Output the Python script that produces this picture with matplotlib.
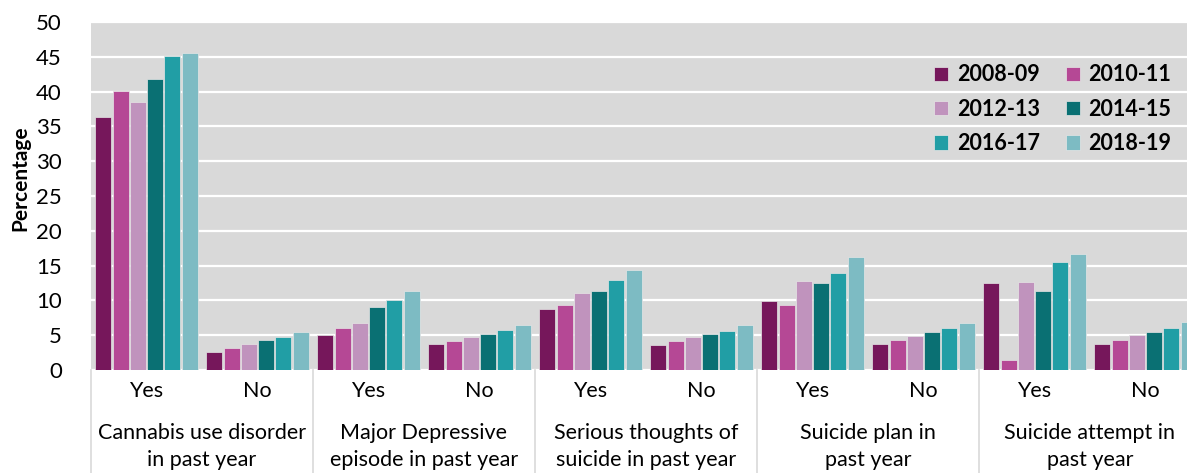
import numpy as np
import matplotlib
matplotlib.use('Agg')
import matplotlib.pyplot as plt
from matplotlib import transforms

plt.rcParams['font.family'] = ['Lato', 'DejaVu Sans']

periods = ['2008-09', '2010-11', '2012-13', '2014-15', '2016-17', '2018-19']
colors = ['#76175B', '#B54895', '#C093BD', '#0A7073', '#219EA5', '#7DBBC3']
categories = ['Cannabis use disorder\nin past year', 'Major Depressive\nepisode in past year',
              'Serious thoughts of\nsuicide in past year', 'Suicide plan in\npast year',
              'Suicide attempt in\npast year']
answers = ['Yes', 'No']

# une ligne par periode, 10 sous-groupes (Yes/No x 5 categories)
v_2008 = [36.3, 2.6, 5.0, 3.7, 8.8, 3.6, 9.9, 3.8, 12.5, 3.8]
v_2010 = [40.1, 3.1, 6.0, 4.2, 9.3, 4.1, 9.4, 4.3, 1.5, 4.3]
v_2012 = [38.5, 3.8, 6.7, 4.8, 11.0, 4.7, 12.8, 4.9, 12.6, 5.0]
v_2014 = [41.8, 4.3, 9.0, 5.2, 11.3, 5.2, 12.5, 5.4, 11.3, 5.5]
v_2016 = [45.1, 4.8, 10.1, 5.7, 12.9, 5.6, 13.9, 6.0, 15.5, 6.0]
v_2018 = [45.6, 5.4, 11.4, 6.4, 14.3, 6.4, 16.2, 6.8, 16.7, 6.9]
values = [v_2008, v_2010, v_2012, v_2014, v_2016, v_2018]

W, H = 1187, 473
fig = plt.figure(figsize=(W / 100, H / 100), dpi=100)
ax = fig.add_axes([91 / W, 103 / H, 1110 / W, 348 / H])
ax.set_facecolor('#D9D9D9')

x = np.arange(len(v_2008))
slot = 0.155
bars = []
for i, (vals, c, lab) in enumerate(zip(values, colors, periods)):
    b = ax.bar(x + (i - 2.5) * slot, vals, width=slot * 0.93, color=c, label=lab,
               edgecolor='#E6E6E6', linewidth=0.5, zorder=3)
    bars.append(b)

ax.set_xlim(-0.5, 9.5)
ax.set_ylim(0, 50)
ax.set_yticks(np.arange(0, 51, 5))
ax.yaxis.grid(True, color='white', linewidth=1.6, zorder=0)
ax.set_axisbelow(True)
for s in ax.spines.values():
    s.set_visible(False)
ax.tick_params(axis='y', length=0, pad=21, labelsize=16)
ax.set_xticks(x)
ax.set_xticklabels(answers * 5)
ax.tick_params(axis='x', length=0, pad=8, labelsize=15.5)

trans = transforms.blended_transform_factory(ax.transData, ax.transAxes)
for k in range(6):
    ax.plot([2 * k - 0.5] * 2, [0, -0.32], transform=trans, color='#D9D9D9',
            linewidth=1.2, clip_on=False)
for k, cat in enumerate(categories):
    ax.text(2 * k + 0.5, -0.22, cat, transform=trans, ha='center', va='center',
            fontsize=15.5, linespacing=1.45)

fig.text(20 / W, 1 - 178 / H, 'Percentage', rotation=90, ha='center', va='center',
         fontsize=15, fontweight='bold')

# ordre ligne par ligne comme dans l'original
order = [0, 2, 4, 1, 3, 5]
leg = ax.legend([bars[i] for i in order], [periods[i] for i in order],
                ncol=2, loc='upper left', bbox_to_anchor=(915 / W, 1 - 45 / H),
                bbox_transform=fig.transFigure, frameon=False,
                handlelength=0.65, handleheight=0.65, handletextpad=0.4,
                columnspacing=1.2, labelspacing=0.62,
                prop={'weight': 'bold', 'size': 15.5})

fig.savefig('out.png', dpi=100)
